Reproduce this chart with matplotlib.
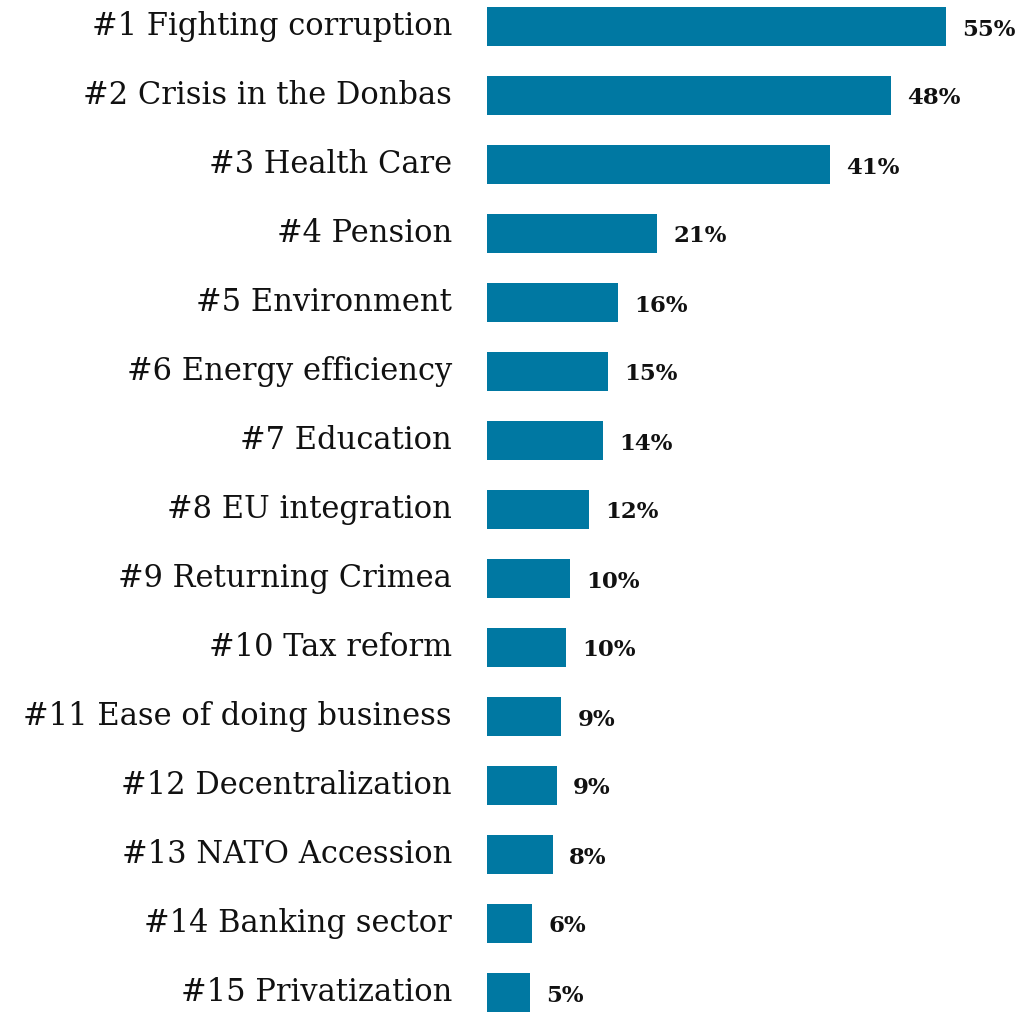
import matplotlib
matplotlib.use("Agg")
import matplotlib.pyplot as plt

# issues ranked, share of respondents (%)
issues = ["#1 Fighting corruption", "#2 Crisis in the Donbas", "#3 Health Care",
          "#4 Pension", "#5 Environment", "#6 Energy efficiency", "#7 Education",
          "#8 EU integration", "#9 Returning Crimea", "#10 Tax reform",
          "#11 Ease of doing business", "#12 Decentralization", "#13 NATO Accession",
          "#14 Banking sector", "#15 Privatization"]
shares = [55.0, 48.4, 41.1, 20.4, 15.7, 14.5, 13.9, 12.2, 10.0, 9.5, 8.9, 8.4, 7.9, 5.4, 5.2]
share_labels = ["55%", "48%", "41%", "21%", "16%", "15%", "14%", "12%", "10%", "10%",
                "9%", "9%", "8%", "6%", "5%"]

W, H = 1021, 1013
fig = plt.figure(figsize=(W / 100, H / 100), dpi=100)
x0 = 487
ax = fig.add_axes([x0 / W, 0, 1 - x0 / W, 1])

px_per_unit = 459 / 55.0
ax.set_xlim(0, (W - x0) / px_per_unit)
row = 69.0
ax.set_ylim(len(issues) - 1 + 20.5 / row, -26.5 / row)

ypos = range(len(issues))
ax.barh(ypos, shares, height=38.4 / row, color="#0078a2", edgecolor="none")

for y, name, val, lab in zip(ypos, issues, shares, share_labels):
    # category name to the left of the axes
    ax.annotate(name, xy=(0, y), xycoords="data", xytext=(-35, 0),
                textcoords="offset pixels", ha="right", va="center",
                fontsize=22, family="DejaVu Serif", color="#111111")
    # value label after the bar end
    ax.annotate(lab, xy=(val, y), xytext=(16, -3), textcoords="offset pixels",
                ha="left", va="center", fontsize=16.5, fontweight="bold",
                family="DejaVu Serif", color="#111111")

ax.axis("off")
fig.savefig("out.png", dpi=100)
